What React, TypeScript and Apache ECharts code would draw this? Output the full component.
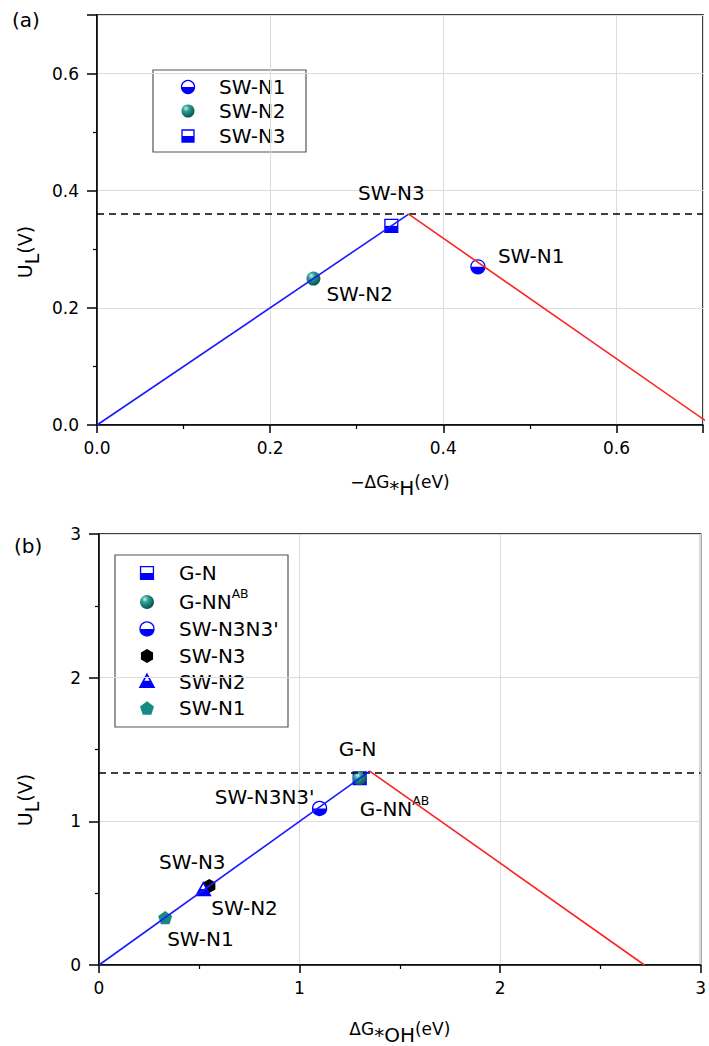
import React, { useEffect, useRef } from "react";
import * as echarts from "echarts";

// ---------- data: panel (a) ----------
const aNames = ["SW-N1", "SW-N2", "SW-N3"];
const aX = [0.44, 0.25, 0.34];
const aY = [0.27, 0.25, 0.34];
const aBlueX = [0, 0.36];
const aBlueY = [0, 0.36];
const aRedX = [0.36, 0.71];
const aRedY = [0.36, 0];
const aLimit = 0.357;
const aTicks = [0, 0.2, 0.4, 0.6];

// ---------- data: panel (b) ----------
const bNames = ["G-N", "G-NN^AB", "SW-N3N3'", "SW-N3", "SW-N2", "SW-N1"];
const bX = [1.3, 1.3, 1.1, 0.55, 0.52, 0.33];
const bY = [1.3, 1.3, 1.09, 0.55, 0.52, 0.33];
const bBlueX = [0, 1.35];
const bBlueY = [0, 1.35];
const bRedX = [1.35, 2.72];
const bRedY = [1.35, 0];
const bLimit = 1.345;
const bTicks = [0, 1, 2, 3];

// ---------- styles ----------
const FONT = "DejaVu Sans";
const BLUE = "#0000ff";
const LINEBLUE = "#1a1aff";
const RED = "#ff2222";
const TEAL = "#178a84";

const aMarkers = ["halfCircle", "sphere", "halfSquare"];
const bMarkers = ["halfSquare", "sphere", "halfCircle", "hexagon", "halfTriangle", "pentagon"];
// label placement relative to marker: [dx, dy, align]
const aLabelPos: [number, number, string][] = [
  [20, -11, "left"],
  [13, 15, "left"],
  [0, -33, "center"],
];
const bLabelPos: [number, number, string][] = [
  [-2, -29, "center"],
  [0, 31, "left"],
  [-5, -11, "right"],
  [-17, -24, "center"],
  [8, 18, "left"],
  [2, 21, "left"],
];

function sphereFill() {
  return new echarts.graphic.RadialGradient(0.35, 0.3, 0.7, [
    { offset: 0, color: "#c8f0ea" },
    { offset: 0.35, color: "#2a9f97" },
    { offset: 1, color: "#0b5550" },
  ]);
}

function markerEls(kind: string, cx: number, cy: number, r: number): any[] {
  const sw = 1.3;
  if (kind === "halfCircle") {
    return [
      { type: "circle", shape: { cx, cy, r }, style: { fill: "#fff", stroke: BLUE, lineWidth: sw } },
      { type: "sector", shape: { cx, cy, r, r0: 0, startAngle: 0, endAngle: Math.PI }, style: { fill: BLUE } },
    ];
  }
  if (kind === "sphere") {
    return [{ type: "circle", shape: { cx, cy, r }, style: { fill: sphereFill() } }];
  }
  if (kind === "halfSquare") {
    const s = r * 0.92;
    return [
      { type: "rect", shape: { x: cx - s, y: cy - s, width: 2 * s, height: 2 * s }, style: { fill: "#fff", stroke: BLUE, lineWidth: sw } },
      { type: "rect", shape: { x: cx - s, y: cy, width: 2 * s, height: s }, style: { fill: BLUE } },
    ];
  }
  if (kind === "hexagon") {
    const pts: number[][] = [];
    for (let i = 0; i < 6; i++) {
      const a = -Math.PI / 2 + (i * Math.PI) / 3;
      pts.push([cx + r * Math.cos(a), cy + r * Math.sin(a)]);
    }
    return [{ type: "polygon", shape: { points: pts }, style: { fill: "#000" } }];
  }
  if (kind === "pentagon") {
    const pts: number[][] = [];
    for (let i = 0; i < 5; i++) {
      const a = -Math.PI / 2 + (i * 2 * Math.PI) / 5;
      pts.push([cx + r * 1.05 * Math.cos(a), cy + 0.1 * r + r * 1.05 * Math.sin(a)]);
    }
    return [{ type: "polygon", shape: { points: pts }, style: { fill: TEAL } }];
  }
  // halfTriangle
  const t = cy - 1.1 * r;
  const b = cy + 0.75 * r;
  const m = (t + b) / 2;
  return [
    { type: "polygon", shape: { points: [[cx, t], [cx + r, b], [cx - r, b]] }, style: { fill: "#fff", stroke: BLUE, lineWidth: 1.6 } },
    { type: "polygon", shape: { points: [[cx - r / 2, m], [cx + r / 2, m], [cx + r, b], [cx - r, b]] }, style: { fill: BLUE } },
  ];
}

function richLabel(name: string) {
  if (name.indexOf("^") >= 0) {
    const [base, sup] = name.split("^");
    return `{m|${base}}{sup|${sup}}`;
  }
  return `{m|${name}}`;
}

function labelRich(size: number) {
  return {
    m: { fontFamily: FONT, fontSize: size, fill: "#000", color: "#000" },
    sup: { fontFamily: FONT, fontSize: size * 0.62, fill: "#000", color: "#000", padding: [0, 0, size * 0.9, 0] },
  };
}

function App() {
  const ref = useRef<HTMLDivElement>(null);
  useEffect(() => {
    if (!ref.current) return;
    const chart = echarts.init(ref.current, undefined, { renderer: "svg" });

    const axisCommon = (
      min: number,
      max: number,
      interval: number,
      fmt: (v: number) => string,
      ticks: number[],
      margin: number,
      tickLen: number
    ) => ({
      type: "value",
      min,
      max,
      interval,
      axisLine: { show: true, lineStyle: { color: "#000", width: 1.5 } },
      axisTick: { show: true, inside: false, length: tickLen, lineStyle: { color: "#000", width: 1.5 } },
      minorTick: { show: true, splitNumber: 2, length: 4, lineStyle: { color: "#000", width: 1.2 } },
      splitLine: { show: true, lineStyle: { color: "#dcdcdc", width: 1 } },
      axisLabel: {
        fontFamily: FONT,
        fontSize: 17,
        color: "#000",
        margin,
        formatter: (v: number) => (ticks.some((t) => Math.abs(t - v) < 1e-9) ? fmt(v) : ""),
      },
    });

    const makeCustom = (
      gridIdx: number,
      xs: number[],
      ys: number[],
      names: string[],
      markers: string[],
      pos: [number, number, string][],
      r: number
    ) => ({
      type: "custom",
      xAxisIndex: gridIdx,
      yAxisIndex: gridIdx,
      z: 3,
      data: xs.map((x, i) => [x, ys[i], i]),
      renderItem: (_params: any, api: any) => {
        const p = api.coord([api.value(0), api.value(1)]);
        const i = api.value(2);
        const [dx, dy, align] = pos[i];
        return {
          type: "group",
          children: [
            ...markerEls(markers[i], p[0], p[1], r),
            {
              type: "text",
              x: p[0] + dx,
              y: p[1] + dy,
              style: {
                text: richLabel(names[i]),
                rich: labelRich(20),
                align,
                verticalAlign: "middle",
                fontFamily: FONT,
                fontSize: 20,
                fill: "#000",
              },
            },
          ],
        };
      },
    });

    const lineSeries = (gridIdx: number, xs: number[], ys: number[], color: string, limit?: number) => ({
      type: "line",
      xAxisIndex: gridIdx,
      yAxisIndex: gridIdx,
      z: 5,
      data: xs.map((x, i) => [x, ys[i]]),
      showSymbol: false,
      symbol: "none",
      lineStyle: { color, width: 1.6 },
      markLine:
        limit !== undefined
          ? {
              silent: true,
              symbol: ["none", "none"],
              label: { show: false },
              lineStyle: { color: "#000", width: 1.5, type: [7, 5] },
              data: [{ yAxis: limit }],
            }
          : undefined,
    });

    const legendBlock = (
      names: string[],
      markers: string[],
      box: { x: number; y: number; w: number; h: number },
      iconX: number,
      textX: number,
      rowY: number[],
      r: number,
      fs: number
    ) => {
      const els: any[] = [
        {
          type: "rect",
          shape: { x: box.x, y: box.y, width: box.w, height: box.h },
          style: { fill: "#fff", stroke: "#555", lineWidth: 1.2 },
        },
      ];
      names.forEach((n, i) => {
        els.push(...markerEls(markers[i], iconX, rowY[i], r));
        els.push({
          type: "text",
          x: textX,
          y: rowY[i],
          style: {
            text: richLabel(n),
            rich: labelRich(fs),
            align: "left",
            verticalAlign: "middle",
            fontFamily: FONT,
            fontSize: fs,
            fill: "#000",
          },
        });
      });
      return { type: "group", z: 10, children: els };
    };

    const yName = (x: number, y: number) => ({
      type: "text",
      x,
      y,
      rotation: Math.PI / 2,
      z: 10,
      style: {
        text: "{m|U}{s|L}{m|(V)}",
        rich: {
          m: { fontFamily: FONT, fontSize: 19, fill: "#000" },
          s: { fontFamily: FONT, fontSize: 19, fill: "#000", padding: [13, 0, 0, 0] },
        },
        align: "center",
        verticalAlign: "middle",
        fontFamily: FONT,
        fontSize: 19,
        fill: "#000",
      },
    });

    const xNameStyle = {
      fontFamily: FONT,
      fontSize: 18,
      color: "#000",
      rich: {
        m: { fontFamily: FONT, fontSize: 17, color: "#000" },
        s: { fontFamily: FONT, fontSize: 20, color: "#000", padding: [13, 0, 0, 0] },
      },
    };

    chart.setOption({
      animation: false,
      backgroundColor: "#fff",
      grid: [
        { left: 97, top: 15, width: 606, height: 410, show: true, borderColor: "#000", borderWidth: 1.5, backgroundColor: "transparent" },
        { left: 99, top: 534, width: 603, height: 435, show: true, borderColor: "#000", borderWidth: 1.5, backgroundColor: "transparent" },
      ],
      xAxis: [
        {
          ...axisCommon(0, 0.7, 0.2, (v) => v.toFixed(1), aTicks, 14, 8),
          gridIndex: 0,
          name: "{m|−ΔG}{s|*H}{m|(eV)}",
          nameLocation: "middle",
          nameGap: 40,
          nameTextStyle: xNameStyle,
        },
        {
          ...axisCommon(0, 3, 1, (v) => String(Math.round(v)), bTicks, 14, 8),
          gridIndex: 1,
          name: "{m|ΔG}{s|*OH}{m|(eV)}",
          nameLocation: "middle",
          nameGap: 47,
          nameTextStyle: xNameStyle,
        },
      ],
      yAxis: [
        { ...axisCommon(0, 0.7, 0.2, (v) => v.toFixed(1), aTicks, 18, 10), gridIndex: 0 },
        { ...axisCommon(0, 3, 1, (v) => String(Math.round(v)), bTicks, 18, 10), gridIndex: 1 },
      ],
      series: [
        lineSeries(0, aBlueX, aBlueY, LINEBLUE, aLimit),
        lineSeries(0, aRedX, aRedY, RED),
        makeCustom(0, aX, aY, aNames, aMarkers, aLabelPos, 7),
        lineSeries(1, bBlueX, bBlueY, LINEBLUE, bLimit),
        lineSeries(1, bRedX, bRedY, RED),
        makeCustom(1, bX, bY, bNames, bMarkers, bLabelPos, 7),
      ],
      graphic: [
        { type: "text", x: 12, y: 20, style: { text: "(a)", fontFamily: FONT, fontSize: 20, fill: "#000", verticalAlign: "middle" } },
        { type: "text", x: 14, y: 546, style: { text: "(b)", fontFamily: FONT, fontSize: 20, fill: "#000", verticalAlign: "middle" } },
        yName(25, 252),
        yName(25, 800),
        legendBlock(aNames, aMarkers, { x: 153, y: 70, w: 153, h: 82 }, 188, 219, [87, 111, 136], 6.5, 20),
        legendBlock(bNames, bMarkers, { x: 115, y: 555, w: 173, h: 172 }, 147, 179, [573, 602, 629, 656, 682, 708], 7, 20),
      ],
    });
    return () => chart.dispose();
  }, []);
  return <div ref={ref} style={{ position: "absolute", left: 0, top: 0, width: 709, height: 1046 }} />;
}

export default App;
